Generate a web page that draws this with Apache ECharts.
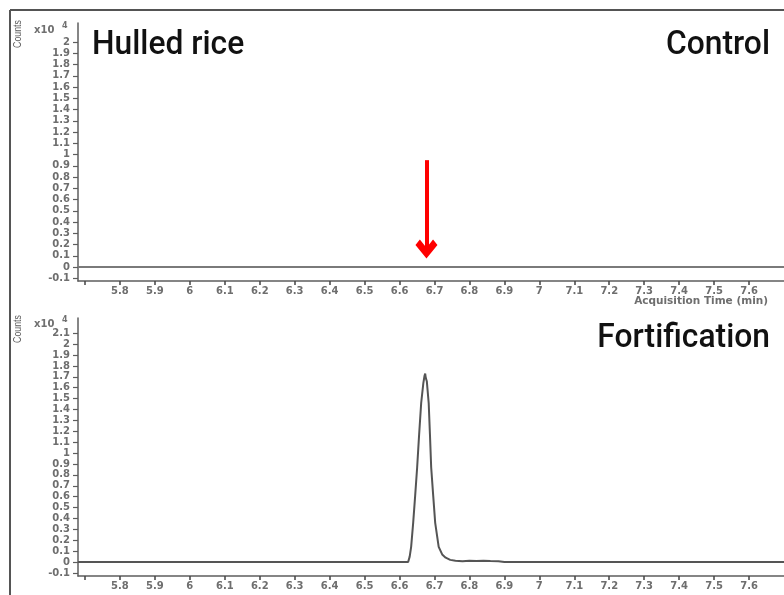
<!DOCTYPE html>
<html>
<head>
<meta charset="utf-8">
<script src="https://cdn.jsdelivr.net/npm/echarts@6/dist/echarts.min.js"></script>
<style>
  html, body { margin: 0; padding: 0; background: #ffffff; }
  #chart { width: 784px; height: 595px; }
</style>
</head>
<body>
<div id="chart"></div>
<script>
// Retention-time axis ticks (min)
const timeTicks = [5.7, 5.8, 5.9, 6, 6.1, 6.2, 6.3, 6.4, 6.5, 6.6, 6.7, 6.8, 6.9, 7, 7.1, 7.2, 7.3, 7.4, 7.5, 7.6];
const timeLabels = [5.8, 5.9, 6, 6.1, 6.2, 6.3, 6.4, 6.5, 6.6, 6.7, 6.8, 6.9, 7, 7.1, 7.2, 7.3, 7.4, 7.5, 7.6];

// Counts axis ticks (x10^4)
const controlCountTicks = [-0.1, 0, 0.1, 0.2, 0.3, 0.4, 0.5, 0.6, 0.7, 0.8, 0.9, 1, 1.1, 1.2, 1.3, 1.4, 1.5, 1.6, 1.7, 1.8, 1.9, 2];
const fortCountTicks = [-0.1, 0, 0.1, 0.2, 0.3, 0.4, 0.5, 0.6, 0.7, 0.8, 0.9, 1, 1.1, 1.2, 1.3, 1.4, 1.5, 1.6, 1.7, 1.8, 1.9, 2, 2.1];

// Control sample: flat baseline
const controlTime = [5.68, 6.2, 6.7, 7.2, 7.70];
const controlCounts = [0, 0, 0, 0, 0];

// Fortified sample: single peak near 6.67 min (counts x10^4)
const fortTime = [5.68, 6.40, 6.600, 6.6246, 6.629, 6.6332, 6.639, 6.6447, 6.6504, 6.656, 6.6619, 6.668, 6.6715, 6.6734, 6.6750, 6.678, 6.6834, 6.687, 6.6905, 6.6963, 6.702, 6.712, 6.722, 6.732, 6.745, 6.760, 6.780, 6.800, 6.820, 6.840, 6.860, 6.883, 6.900, 7.20, 7.70];
const fortCounts = [0, 0, 0, 0, 0.05, 0.14, 0.36, 0.61, 0.87, 1.17, 1.46, 1.64, 1.71, 1.73, 1.69, 1.66, 1.46, 1.17, 0.87, 0.61, 0.36, 0.14, 0.07, 0.04, 0.02, 0.012, 0.008, 0.013, 0.009, 0.012, 0.010, 0.008, 0, 0, 0];

// Red arrow marking the expected retention time in the control run
const arrowTime = 6.677;
const arrowFrom = 0.95;
const arrowTo = 0.16;

const pair = (xs, ys) => xs.map((x, i) => [x, ys[i]]);

const labelFont = { fontFamily: 'DejaVu Sans', fontWeight: 'bold', fontSize: 10, color: '#6e6e6e' };
const axisGray = '#5e5e5e';

function xAxisFor(gridIndex) {
  return {
    type: 'value', gridIndex, min: 5.68, max: 7.70,
    axisLine: { show: true, onZero: false, lineStyle: { color: axisGray, width: 1.5 } },
    axisTick: { show: true, length: 4, customValues: timeTicks, lineStyle: { color: '#444', width: 1.5 } },
    axisLabel: Object.assign({ margin: 5, customValues: timeLabels, showMinLabel: true, showMaxLabel: true }, labelFont),
    splitLine: { show: false }
  };
}
function yAxisFor(gridIndex, min, max, ticks) {
  return {
    type: 'value', gridIndex, min, max,
    axisLine: { show: true, onZero: false, lineStyle: { color: axisGray, width: 1.5 } },
    axisTick: { show: true, length: 5, customValues: ticks, lineStyle: { color: axisGray, width: 1.2 } },
    axisLabel: Object.assign({ margin: 8, customValues: ticks }, labelFont),
    splitLine: { show: false }
  };
}

const arrowHead = 'path://M10 0 L20 10 L16 14 L10 8 L4 14 L0 10 Z';

const titleFont = { fontFamily: 'Roboto', fontWeight: 500, fontSize: 34, fill: '#111' };
const titleScale = 0.935;
const captionFont = { fontFamily: 'Liberation Sans', fontSize: 11, fill: '#5a5a5a', textAlign: 'center', textVerticalAlign: 'middle' };
const unitFont = { fontFamily: 'DejaVu Sans', fontWeight: 'bold', fontSize: 10, fill: '#707070', textVerticalAlign: 'middle' };
const expFont = { fontFamily: 'DejaVu Sans', fontWeight: 'bold', fontSize: 8, fill: '#707070', textVerticalAlign: 'middle' };

const chart = echarts.init(document.getElementById('chart'), null, { renderer: 'canvas' });
chart.setOption({
  animation: false,
  backgroundColor: '#ffffff',
  grid: [
    { left: 78, top: 23, width: 706, height: 258 },
    { left: 78, top: 318, width: 706, height: 258 }
  ],
  xAxis: [xAxisFor(0), xAxisFor(1)],
  yAxis: [
    yAxisFor(0, -0.124, 2.169, controlCountTicks),
    yAxisFor(1, -0.128, 2.240, fortCountTicks)
  ],
  series: [
    {
      type: 'line', xAxisIndex: 0, yAxisIndex: 0,
      data: pair(controlTime, controlCounts),
      showSymbol: false,
      lineStyle: { color: '#7a7a7a', width: 2 },
      markLine: {
        silent: true,
        symbol: ['none', arrowHead],
        symbolSize: [22, 19],
        lineStyle: { color: '#ff0000', width: 4, type: 'solid' },
        itemStyle: { color: '#ff0000' },
        label: { show: false },
        data: [[{ coord: [arrowTime, arrowFrom] }, { coord: [arrowTime, arrowTo] }]]
      }
    },
    {
      type: 'line', xAxisIndex: 1, yAxisIndex: 1,
      data: pair(fortTime, fortCounts),
      showSymbol: false,
      lineStyle: { color: '#555555', width: 2 }
    }
  ],
  graphic: [
    // outer frame
    { type: 'line', shape: { x1: 10, y1: 10, x2: 784, y2: 10 }, style: { stroke: '#1a1a1a', lineWidth: 1.5 } },
    { type: 'line', shape: { x1: 10, y1: 10, x2: 10, y2: 595 }, style: { stroke: '#555', lineWidth: 2 } },
    // panel titles
    { type: 'text', x: 92, y: 45, scaleX: titleScale, style: Object.assign({ text: 'Hulled rice', textAlign: 'left', textVerticalAlign: 'middle' }, titleFont) },
    { type: 'text', x: 770, y: 45, scaleX: titleScale, style: Object.assign({ text: 'Control', textAlign: 'right', textVerticalAlign: 'middle' }, titleFont) },
    { type: 'text', x: 770, y: 338, scaleX: titleScale, style: Object.assign({ text: 'Fortification', textAlign: 'right', textVerticalAlign: 'middle' }, titleFont) },
    // y-axis captions
    { type: 'text', x: 18, y: 34, rotation: Math.PI / 2, scaleX: 0.8, style: Object.assign({ text: 'Counts' }, captionFont) },
    { type: 'text', x: 18, y: 329, rotation: Math.PI / 2, scaleX: 0.8, style: Object.assign({ text: 'Counts' }, captionFont) },
    { type: 'text', x: 34, y: 30, style: Object.assign({ text: 'x10' }, unitFont) },
    { type: 'text', x: 62, y: 26, style: Object.assign({ text: '4' }, expFont) },
    { type: 'text', x: 34, y: 324, style: Object.assign({ text: 'x10' }, unitFont) },
    { type: 'text', x: 62, y: 320, style: Object.assign({ text: '4' }, expFont) },
    // x-axis caption
    { type: 'text', x: 768, y: 301, style: { text: 'Acquisition Time (min)', fontFamily: 'DejaVu Sans', fontWeight: 'bold', fontSize: 10.5, fill: '#6e6e6e', textAlign: 'right', textVerticalAlign: 'middle' } }
  ]
});
</script>
</body>
</html>
